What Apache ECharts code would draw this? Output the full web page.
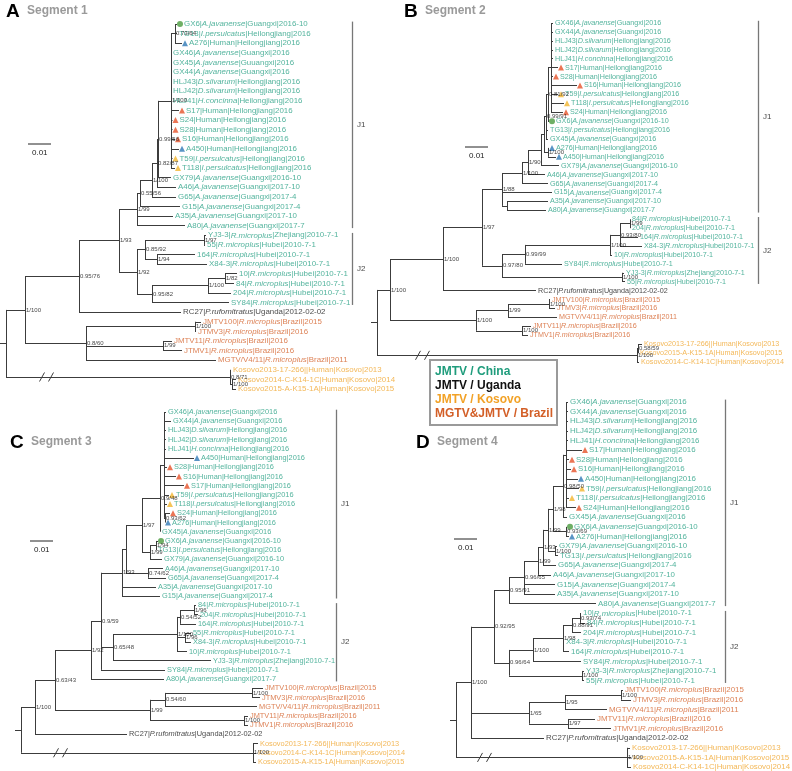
<!DOCTYPE html>
<html><head><meta charset="utf-8">
<script src="https://cdn.jsdelivr.net/npm/echarts@6/dist/echarts.min.js"></script>
<style>html,body{margin:0;padding:0;background:#fff}#c{width:792px;height:771px}</style>
</head><body><div id="c"></div>
<script>
// ---------- text data ----------
const LABELS = {
  GX6:'GX6|_A.javanense_|Guangxi|2016-10', TG13:'TG13|_I.persulcatus_|Heilongjiang|2016',
  A276:'A276|Human|Heilongjiang|2016', GX46:'GX46|_A.javanense_|Guangxi|2016',
  GX45:'GX45|_A.javanense_|Guangxi|2016', GX44:'GX44|_A.javanense_|Guangxi|2016',
  HLJ43:'HLJ43|_D.silvarum_|Heilongjiang|2016', HLJ42:'HLJ42|_D.silvarum_|Heilongjiang|2016',
  HLJ41:'HLJ41|_H.concinna_|Heilongjiang|2016', S17:'S17|Human|Heilongjiang|2016',
  S24:'S24|Human|Heilongjiang|2016', S28:'S28|Human|Heilongjiang|2016', S16:'S16|Human|Heilongjiang|2016',
  A450:'A450|Human|Heilongjiang|2016', T59:'T59|_I.persulcatus_|Heilongjiang|2016',
  T118:'T118|_I.persulcatus_|Heilongjiang|2016', GX79:'GX79|_A.javanense_|Guangxi|2016-10',
  A46:'A46|_A.javanense_|Guangxi|2017-10', G65:'G65|_A.javanense_|Guangxi|2017-4',
  G15:'G15|_A.javanense_|Guangxi|2017-4', A35:'A35|_A.javanense_|Guangxi|2017-10',
  A80:'A80|_A.javanense_|Guangxi|2017-7', 'YJ3-3':'YJ3-3|_R.microplus_|Zhejiang|2010-7-1',
  '55':'55|_R.microplus_|Hubei|2010-7-1', '164':'164|_R.microplus_|Hubei|2010-7-1',
  'X84-3':'X84-3|_R.microplus_|Hubei|2010-7-1', '10':'10|_R.microplus_|Hubei|2010-7-1',
  '84':'84|_R.microplus_|Hubei|2010-7-1', '204':'204|_R.microplus_|Hubei|2010-7-1',
  SY84:'SY84|_R.microplus_|Hubei|2010-7-1', RC27:'RC27|_P.rufomitratus_|Uganda|2012-02-02',
  JMTV100:'JMTV100|_R.microplus_|Brazil|2015', JTMV3:'JTMV3|_R.microplus_|Brazil|2016',
  JMTV11:'JMTV11|_R.microplus_|Brazil|2016', JTMV1:'JTMV1|_R.microplus_|Brazil|2016',
  MGTV:'MGTV/V4/11|_R.microplus_|Brazil|2011', Kos2013:'Kosovo2013-17-266||Human|Kosovo|2013',
  Kos2014:'Kosovo2014-C-K14-1C|Human|Kosovo|2014', Kos2015:'Kosovo2015-A-K15-1A|Human|Kosovo|2015'
};
const LABELS_A_FIX = {GX45:'GX45|_A.javanense_|Guuangxi|2016'};
const UGANDA = ['RC27'];
const BRAZIL = ['JMTV100','JTMV3','JMTV11','JTMV1','MGTV'];
const KOSOVO = ['Kos2013','Kos2014','Kos2015'];
const MARK_GREEN = ['GX6'];
const MARK_BLUE = ['A276','A450'];
const MARK_RED = ['S17','S24','S28','S16'];
const MARK_YELLOW = ['T59','T118'];
const LEGEND = ['JMTV / China','JMTV / Uganda','JMTV / Kosovo','MGTV&JMTV / Brazil'];
const TITLES = [['A','Segment 1'],['B','Segment 2'],['C','Segment 3'],['D','Segment 4']];
const SCALE_TEXT = '0.01';

// ---------- trees: node = [x, support, children], leaf = [id, tipX] ----------
const treeA = [6, '', [
  [25, '1/100', [
    [79, '0.95/76', [
      [119, '1/93', [
        [137, '1/99', [
          [140, '0.55/56', [
            [152, '1/100', [
              [157, '0.82/87', [
                [158, '0.99/56', [
                  [171, '1/100', [
                    [175, '0.73/64', [['GX6',177],['TG13',177],['A276',182]]],
                    ['GX46',171],['GX45',171],['GX44',171],['HLJ43',171],['HLJ42',171],['HLJ41',171],
                    ['S17',179],['S24',172.5],['S28',172.5],['S16',175],['A450',179],['T59',172.5],['T118',175]
                  ]],
                  ['GX79',171]
                ]],
                ['A46',176]
              ]],
              ['G65',176]
            ]],
            ['G15',180]
          ]],
          ['A35',173],
          ['A80',185]
        ]],
        [137, '1/92', [
          [145, '0.85/92', [
            [204, '1/97', [['YJ3-3',206],['55',205]]],
            [157, '1/94', [['164',195],['X84-3',207]]]
          ]],
          [152, '0.95/82', [
            [208, '1/100', [
              [225, '1/82', [['10',237],['84',234]]],
              ['204',231]
            ]],
            ['SY84',229]
          ]]
        ]]
      ]],
      ['RC27',181]
    ]],
    [86, '0.8/60', [
      [195, '1/100', [['JMTV100',201],['JTMV3',196]]],
      [163, '1/99', [['JMTV11',172],['JTMV1',182]]],
      ['MGTV',216]
    ]]
  ]],
  [230, '0.8/71', [['Kos2013',231],[232, '1/100', [['Kos2014',236],['Kos2015',236]]]]]
]];

const treeB = [377, '', [
  [390, '1/100', [
    [443, '1/100', [
      [482, '1/97', [
        [502, '1/88', [
          [522, '1/100', [
            [528, '1/90', [
              [541, '', [
                [544, '', [
                  [546, '0.99/91', [
                    [548, '0.81/92', [
                      [551, '', [['GX46',553],['GX44',553],['HLJ43',553],['HLJ42',553],['HLJ41',553],['S17',558],['S28',553],['S16',577],['T59',558],['T118',564],['S24',563]]],
                      ['GX6',549]
                    ]],
                    ['TG13',548],['GX45',548]
                  ]],
                  [548, '1/100', [['A276',549],['A450',556]]]
                ]],
                ['GX79',559]
              ]],
              ['A46',545]
            ]],
            ['G65',548]
          ]],
          ['G15',552],
          [507, '', [['A35',548],['A80',546]]]
        ]],
        [502, '0.97/80', [
          [525, '0.99/99', [
            [610, '1/100', [
              [620, '0.93/80', [
                [630, '1/99', [['84',630],['204',630]]],
                ['164',638],['X84-3',642]
              ]],
              ['10',612]
            ]],
            ['SY84',562]
          ]],
          [622, '1/100', [['YJ3-3',624],['55',625]]]
        ]]
      ]],
      ['RC27',536]
    ]],
    [476, '1/100', [
      [508, '1/99', [
        [549, '1/100', [['JMTV100',550],['JTMV3',555]]],
        ['MGTV',557]
      ]],
      [522, '1/100', [['JMTV11',531],['JTMV1',528]]]
    ]]
  ]],
  [637, '1/100', [
    [638, '0.58/59', [['Kos2013',642],['Kos2015',638]]],
    ['Kos2014',639]
  ]]
]];

const treeC = [21, '', [
  [35, '1/100', [
    [55, '0.63/43', [
      [91, '1/92', [
        [101, '0.9/59', [
          [122, '1/93', [
            [126, '', [
              [142, '1/97', [
                [160, '0.9/48', [
                  [164, '', [['GX46',166],['GX44',171],['HLJ43',166],['HLJ42',166],['HLJ41',166],['A450',194],['S28',167],['S16',176],['S17',184],['T59',169],['T118',167],
                    [165, '0.93/62', [['S24',170],['A276',165]]]]],
                  ['GX45',160]
                ]],
                [150, '1/99', [
                  [156, '1/94', [['GX6',158],['TG13',156]]],
                  ['GX79',162]
                ]]
              ]],
              [148, '0.74/62', [['A46',163],['G65',166]]]
            ]],
            ['A35',156],
            ['G15',160]
          ]],
          [113, '0.65/48', [
            [177, '1/100', [
              [180, '0.54/52', [
                [194, '1/96', [['84',196],['204',198]]],
                ['164',196]
              ]],
              [185, '1/96', [['55',191],['X84-3',191]]],
              ['10',187]
            ]],
            ['YJ3-3',211]
          ]],
          ['SY84',165]
        ]],
        ['A80',164]
      ]],
      [150, '1/99', [
        [165, '0.54/60', [
          [252, '1/100', [['JMTV100',263],['JTMV3',260]]],
          ['MGTV',257]
        ]],
        [244, '1/100', [['JMTV11',248],['JTMV1',248]]]
      ]]
    ]],
    ['RC27',127]
  ]],
  [253, '1/100', [['Kos2013',258],['Kos2014',256],['Kos2015',256]]]
]];

const treeD = [456, '', [
  [471, '1/100', [
    [494, '0.92/95', [
      [509, '0.95/91', [
        [524, '0.96/65', [
          [538, '1/99', [
            [543, '1/93', [
              [548, '1/99', [
                [553, '1/98', [
                  [563, '0.98/50', [
                    [566, '', [['GX46',568],['GX44',568],['HLJ43',568],['HLJ42',568],['HLJ41',568],['S17',582],['S28',569],['S16',571],['A450',578],['T59',579],['T118',569],['S24',576]]],
                    ['GX45',567]
                  ]],
                  [566, '0.93/69', [['GX6',567],['A276',569]]]
                ]],
                [555, '1/100', [['GX79',557],['TG13',558]]]
              ]],
              ['G65',556]
            ]],
            ['A46',551]
          ]],
          ['G15',555],
          ['A35',555]
        ]],
        ['A80',596]
      ]],
      [509, '0.96/64', [
        [533, '1/100', [
          [563, '1/98', [
            [572, '0.88/91', [
              [580, '0.93/74', [['10',581],['84',585]]],
              ['204',581]
            ]],
            ['X84-3',564],
            ['164',569]
          ]],
          ['SY84',581]
        ]],
        [582, '1/100', [['YJ3-3',584],['55',584]]]
      ]]
    ]],
    [529, '1/65', [
      [565, '1/95', [
        [621, '1/100', [['JMTV100',623],['JTMV3',631]]],
        ['MGTV',607]
      ]],
      [568, '1/97', [['JMTV11',595],['JTMV1',611]]]
    ]],
    ['RC27',544]
  ]],
  [627, '1/100', [['Kos2013',630],['Kos2015',631],['Kos2014',631]]]
]];

// ---------- layout / style ----------
const FF = '"Liberation Sans", Arial, sans-serif';
const COL = {c:'#28a085', u:'#151515', b:'#d4622b', k:'#f0a630'};
const LEGCOL = ['#1f9c7c','#111111','#f2a227','#d35f27'];
const PANELS = [
  {tree:treeA, top:24, bottom:389, fs:7.9, bx:352, br:[['J1','GX6','A80'],['J2','YJ3-3','SY84']], breaks:[42,51], fix:LABELS_A_FIX,
   title:[6,12], scale:[28,144]},
  {tree:treeB, top:23, bottom:362, fs:7.2, bx:758, br:[['J1','GX46','A80'],['J2','84','55']], breaks:[418,427], fix:{},
   title:[404,12], scale:[465,147]},
  {tree:treeC, top:412, bottom:762, fs:7.4, bx:336, br:[['J1','GX46','G15'],['J2','84','A80']], breaks:[56,65], fix:{},
   title:[10,443], scale:[30,541]},
  {tree:treeD, top:402, bottom:767, fs:7.9, bx:725, br:[['J1','GX46','A80'],['J2','10','55']], breaks:[480,489], fix:{},
   title:[416,443], scale:[454,539]}
];

function groupOf(id){
  if (UGANDA.includes(id)) return 'u';
  if (BRAZIL.includes(id)) return 'b';
  if (KOSOVO.includes(id)) return 'k';
  return 'c';
}
function markerOf(id){
  if (MARK_GREEN.includes(id)) return ['circle','#4a9b3e'];
  if (MARK_BLUE.includes(id)) return ['triangle','#2f79b6'];
  if (MARK_RED.includes(id)) return ['triangle','#e6532a'];
  if (MARK_YELLOW.includes(id)) return ['triangle','#f3b52e'];
  return null;
}
function fmt(text, g){
  return text.split('_').map((s,i)=> s ? '{' + (i%2 ? 'i' : 'n') + g + '|' + s + '}' : '').join('');
}
function layout(tree){
  const leaves=[], segs=[], nodes=[]; let rootKids=[];
  function walk(n, px){
    if (typeof n[0] === 'string'){
      const y = leaves.length;
      leaves.push({id:n[0], x:n[1], y});
      if (px!=null) segs.push([[px,y],[n[1],y]]);
      return y;
    }
    const ys = n[2].map(c=>walk(c, n[0]));
    const y = (ys[0]+ys[ys.length-1])/2;
    segs.push([[n[0],ys[0]],[n[0],ys[ys.length-1]]]);
    if (px!=null) segs.push([[px,y],[n[0],y]]);
    if (n[1]) nodes.push({x:n[0], y, label:n[1]});
    if (px==null) rootKids = ys;
    return y;
  }
  const rootY = walk(tree, null);
  return {leaves, segs, nodes, rootY, rootKids};
}

const option = {animation:false, grid:[], xAxis:[], yAxis:[], series:[], graphic:[]};

PANELS.forEach((p,i)=>{
  const L = layout(p.tree);
  const n = L.leaves.length;
  const rowPx = (p.bottom-p.top)/(n-1);
  option.grid.push({left:0, right:0, top:p.top, height:p.bottom-p.top, containLabel:false});
  option.xAxis.push({type:'value', gridIndex:i, min:0, max:792, show:false});
  option.yAxis.push({type:'value', gridIndex:i, min:0, max:n-1, inverse:true, show:false});
  const rootX = p.tree[0];
  const segs = L.segs.slice();
  segs.push([[rootX-6, L.rootY],[rootX, L.rootY]]);
  const kosY = L.rootKids[L.rootKids.length-1];
  const dy = 4.5/rowPx;
  p.breaks.forEach(bx=>segs.push([[bx-2.5, kosY+dy],[bx+2.5, kosY-dy]]));
  option.series.push({type:'lines', coordinateSystem:'cartesian2d', xAxisIndex:i, yAxisIndex:i, polyline:false, silent:true, clip:false,
    lineStyle:{color:'#3c3c3c', width:1, opacity:1}, data:segs.map(s=>({coords:s})), z:2});
  // brackets
  const idx = id=>L.leaves.find(l=>l.id===id).y;
  const bsegs=[], btxt=[];
  p.br.forEach(b=>{
    const a=idx(b[1]), e=idx(b[2]);
    bsegs.push([[p.bx, a-0.25],[p.bx, e+0.25]]);
    btxt.push({name:b[0], value:[p.bx,(a+e)/2]});
  });
  option.series.push({type:'lines', coordinateSystem:'cartesian2d', xAxisIndex:i, yAxisIndex:i, silent:true, clip:false,
    lineStyle:{color:'#777', width:1.3, opacity:1}, data:bsegs.map(s=>({coords:s})), z:2});
  option.series.push({type:'scatter', xAxisIndex:i, yAxisIndex:i, symbolSize:0, silent:true, clip:false, data:btxt,
    label:{show:true, position:'right', distance:5, formatter:'{b}', fontSize:8, color:'#111', fontFamily:FF}});
  // markers
  const mk = [];
  L.leaves.forEach(l=>{ const m=markerOf(l.id); if(m) mk.push({value:[l.x,l.y], symbol:m[0], itemStyle:{color:m[1]}}); });
  option.series.push({type:'scatter', xAxisIndex:i, yAxisIndex:i, symbolSize:6, symbolOffset:[3,0], silent:true, clip:false, data:mk, z:4});
  // tip labels
  const rich = {};
  ['c','u','b','k'].forEach(g=>{
    rich['n'+g] = {color:COL[g], fontSize:p.fs, fontFamily:FF};
    rich['i'+g] = {color:COL[g], fontSize:p.fs, fontFamily:FF, fontStyle:'italic'};
  });
  option.series.push({type:'scatter', xAxisIndex:i, yAxisIndex:i, symbolSize:0, silent:true, clip:false, z:5,
    label:{show:true, position:'right', rich},
    data:L.leaves.map(l=>{
      const txt = p.fix[l.id] || LABELS[l.id];
      return {value:[l.x,l.y], label:{formatter:fmt(txt, groupOf(l.id)), distance: markerOf(l.id) ? 7 : 2}};
    })});
  // support values
  option.series.push({type:'scatter', xAxisIndex:i, yAxisIndex:i, symbolSize:0, silent:true, clip:false, z:6,
    label:{show:true, position:'right', distance:1, formatter:'{b}', fontSize:6, color:'#111', fontFamily:FF},
    data:L.nodes.map(nd=>({name:nd.label, value:[nd.x, nd.y]}))});
  // titles & scale bars
  option.graphic.push({type:'text', left:p.title[0], top:p.title[1]-10, style:{text:TITLES[i][0], font:'bold 19px '+FF, fill:'#000'}});
  option.graphic.push({type:'text', left:p.title[0]+21, top:p.title[1]-7, style:{text:TITLES[i][1], font:'bold 12px '+FF, fill:'#9a9a9a'}});
  option.graphic.push({type:'line', shape:{x1:p.scale[0], y1:p.scale[1], x2:p.scale[0]+23, y2:p.scale[1]}, style:{stroke:'#222', lineWidth:1}});
  option.graphic.push({type:'text', left:p.scale[0]+4, top:p.scale[1]+5, style:{text:SCALE_TEXT, font:'8px '+FF, fill:'#222'}});
});

// legend box
option.graphic.push({type:'rect', left:429, top:359, shape:{width:127, height:65}, style:{fill:'#fff', stroke:'#9a9a9a', lineWidth:2}, z:10});
LEGEND.forEach((t,k)=>{
  option.graphic.push({type:'text', left:435, top:366+k*14, z:11, style:{text:t, font:'bold 12px '+FF, fill:LEGCOL[k]}});
});

const chart = echarts.init(document.getElementById('c'), null, {renderer:'canvas'});
chart.setOption(option);
</script>
</body></html>
